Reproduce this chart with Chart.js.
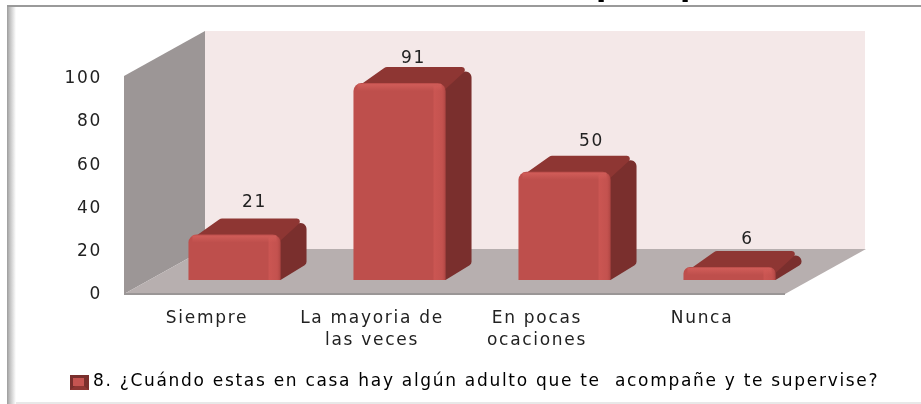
<!DOCTYPE html>
<html><head><meta charset="utf-8">
<style>html,body{margin:0;padding:0;background:#fff}#wrap{width:921px;height:404px;position:relative}canvas{display:block}</style>
<script src="https://cdn.jsdelivr.net/npm/chart.js@4/dist/chart.umd.min.js"></script>
</head><body><div id="wrap"><canvas id="c" width="921" height="404"></canvas></div>
<script>
const categories = [["Siempre"], ["La mayoria de", "las veces"], ["En pocas", "ocaciones"], ["Nunca"]];
const seriesName = "8. ¿Cuándo estas en casa hay algún adulto que te  acompañe y te supervise?";
const values = [21, 91, 50, 6];
const yTicks = [0, 20, 40, 60, 80, 100];
const FONT = "'DejaVu Sans', sans-serif";
const FONT_SIZE = 17;
const SPACING = '1.7px';
const BAR_DX = 26, BAR_DY = -16;
const WALL_DX = 81, WALL_DY = -45;
const FRONT_X0 = 124, FRONT_X1 = 785, FRONT_Y_OFF = 14;
const labelNudgeX = [20, 14, 27, 18];
const labelNudgeY = [-32, -24, -30, -27];

function poly(ctx, pts, fill) {
  ctx.beginPath();
  pts.forEach((p, i) => i ? ctx.lineTo(p[0], p[1]) : ctx.moveTo(p[0], p[1]));
  ctx.closePath();
  ctx.fillStyle = fill;
  ctx.fill();
}
// each point is [x, y, cornerRadius]
function rounded(ctx, pts, fill) {
  ctx.beginPath();
  const n = pts.length;
  ctx.moveTo((pts[0][0] + pts[n-1][0]) / 2, (pts[0][1] + pts[n-1][1]) / 2);
  for (let i = 0; i < n; i++) {
    const a = pts[i], b = pts[(i + 1) % n];
    ctx.arcTo(a[0], a[1], b[0], b[1], a[2]);
  }
  ctx.closePath();
  ctx.fillStyle = fill;
  ctx.fill();
}

const scene = {
  id: 'scene',
  beforeLayout(chart) { chart.ctx.letterSpacing = SPACING; },
  afterLayout(chart) {
    const lg = chart.legend;
    lg.left = 80.5; lg.right = 921;
    lg.top = 369; lg.bottom = 399;
  },
  beforeDraw(chart) {
    const ctx = chart.ctx, y = chart.scales.y;
    ctx.letterSpacing = SPACING;
    const yb = y.getPixelForValue(0) + FRONT_Y_OFF;
    const yt = y.getPixelForValue(100) + 12.5;
    ctx.save();
    ctx.fillStyle = '#fff';
    ctx.fillRect(0, 0, chart.width, chart.height);
    // frame
    const g = ctx.createLinearGradient(6, 0, 16, 0);
    g.addColorStop(0, '#8f8f8f'); g.addColorStop(0.35, '#bdbdbd'); g.addColorStop(1, '#ffffff');
    ctx.fillStyle = g; ctx.fillRect(7, 5, 9, 399);
    ctx.fillStyle = '#9a9a9a'; ctx.fillRect(7, 5, 914, 2);
    ctx.fillStyle = '#e8e8e8'; ctx.fillRect(16, 402, 905, 2);
    // clipped title remnants at the very top of the picture
    ctx.fillStyle = '#000';
    ctx.font = 'bold 30px ' + FONT;
    ctx.textAlign = 'left';
    ctx.textBaseline = 'alphabetic';
    ctx.letterSpacing = '0px';
    ctx.fillText('p', 596, -4);
    ctx.fillText('p', 680, -4);
    ctx.letterSpacing = SPACING;
    // back wall
    poly(ctx, [[FRONT_X0 + WALL_DX, yt + WALL_DY], [FRONT_X1 + WALL_DX - 1, yt + WALL_DY], [FRONT_X1 + WALL_DX - 1, yb + WALL_DY], [FRONT_X0 + WALL_DX, yb + WALL_DY]], '#F4E8E8');
    // side wall
    poly(ctx, [[FRONT_X0, yt], [FRONT_X0 + WALL_DX, yt + WALL_DY], [FRONT_X0 + WALL_DX, yb + WALL_DY], [FRONT_X0, yb]], '#9C9696');
    // floor
    poly(ctx, [[FRONT_X0, yb], [FRONT_X1, yb], [FRONT_X1 + WALL_DX, yb + WALL_DY], [FRONT_X0 + WALL_DX, yb + WALL_DY]], '#B7AFAF');
    ctx.fillStyle = '#9a9696'; ctx.fillRect(FRONT_X0, yb - 1, FRONT_X1 - FRONT_X0, 2);
    ctx.restore();
  },
  beforeDatasetsDraw(chart) {
    const ctx = chart.ctx, meta = chart.getDatasetMeta(0);
    ctx.save();
    meta.data.forEach(bar => {
      const l = bar.x - bar.width / 2, r = bar.x + bar.width / 2, t = bar.y, b = bar.base;
      // side face
      rounded(ctx, [[r - 8, t + 4, 0], [r + BAR_DX, t + BAR_DY, 6], [r + BAR_DX, b + BAR_DY, 4], [r, b, 0], [r - 8, b, 0]], '#7A2F2D');
      // top face
      rounded(ctx, [[l + 1, t + 6, 0], [l + 32, t + BAR_DY, 5], [r + BAR_DX - 2, t + BAR_DY, 3], [r, t + 6, 0]], '#8E3633');
    });
    ctx.restore();
  },
  afterDatasetsDraw(chart) {
    const ctx = chart.ctx, meta = chart.getDatasetMeta(0);
    ctx.save();
    meta.data.forEach((bar, i) => {
      const l = bar.x - bar.width / 2, r = bar.x + bar.width / 2, t = bar.y, b = bar.base;
      // bevel highlights on the front face
      const tg = ctx.createLinearGradient(0, t, 0, t + 8);
      tg.addColorStop(0, 'rgba(226,105,100,0.6)'); tg.addColorStop(1, 'rgba(226,105,100,0)');
      ctx.fillStyle = tg; ctx.fillRect(l + 4, t + 1, r - l - 8, Math.min(8, b - t - 1));
      const rg = ctx.createLinearGradient(r - 12, 0, r, 0);
      rg.addColorStop(0, 'rgba(214,92,88,0.55)'); rg.addColorStop(0.7, 'rgba(214,92,88,0.25)'); rg.addColorStop(1, 'rgba(150,55,52,0.45)');
      ctx.fillStyle = rg; ctx.fillRect(r - 12, t + 3, 12, b - t - 3);
      // value label
      ctx.fillStyle = '#222';
      ctx.font = FONT_SIZE + 'px ' + FONT;
      ctx.textAlign = 'center';
      ctx.textBaseline = 'middle';
      ctx.fillText(String(values[i]), bar.x + labelNudgeX[i], t + labelNudgeY[i]);
    });
    ctx.restore();
  },
  afterDraw(chart) {
    // bevelled legend marker
    const ctx = chart.ctx, x = 70, y = 375, w = 19, h = 15;
    ctx.save();
    ctx.fillStyle = '#7A2F2D'; ctx.fillRect(x, y, w, h);
    poly(ctx, [[x, y + h], [x + w / 2, y + h / 2], [x + w, y + h]], '#8E3633');
    poly(ctx, [[x + 3, y + 3], [x + w - 5, y + 3], [x + w - 5, y + h - 4], [x + 3, y + h - 4]], '#C65451');
    ctx.restore();
  }
};

new Chart(document.getElementById('c'), {
  type: 'bar',
  data: {
    labels: categories,
    datasets: [{
      label: seriesName,
      data: values,
      backgroundColor: '#BE4F4C',
      borderWidth: 0,
      borderRadius: { topLeft: 8, topRight: 8, bottomLeft: 0, bottomRight: 0 },
      borderSkipped: false,
      barPercentage: 0.558,
      categoryPercentage: 1
    }]
  },
  plugins: [scene],
  options: {
    responsive: false,
    animation: false,
    layout: { padding: { left: 0, right: 109, top: 63.6, bottom: 0 } },
    plugins: {
      tooltip: { enabled: false },
      legend: {
        position: 'bottom',
        align: 'start',
        labels: {
          color: '#222',
          boxWidth: 0, boxHeight: 15, padding: 4,
          font: { family: FONT, size: FONT_SIZE },
          generateLabels(chart) {
            return [{ text: seriesName, fillStyle: 'rgba(0,0,0,0)', strokeStyle: 'rgba(0,0,0,0)', lineWidth: 0, datasetIndex: 0 }];
          }
        }
      }
    },
    scales: {
      x: {
        grid: { display: false, drawTicks: false },
        border: { display: false },
        afterFit(s) { s.height = 93; },
        ticks: { color: '#222', labelOffset: -27.5, padding: 27, maxRotation: 0, autoSkip: false, font: { family: FONT, size: FONT_SIZE, lineHeight: 1.32 } }
      },
      y: {
        min: 0, max: 100,
        grid: { display: false, drawTicks: false },
        border: { display: false },
        afterFit(s) { s.width = 152; },
        afterBuildTicks(s) { s.ticks = yTicks.map(v => ({ value: v })); },
        ticks: { color: '#222', labelOffset: 15, padding: 50, font: { family: FONT, size: FONT_SIZE } }
      }
    }
  }
});
</script></body></html>
